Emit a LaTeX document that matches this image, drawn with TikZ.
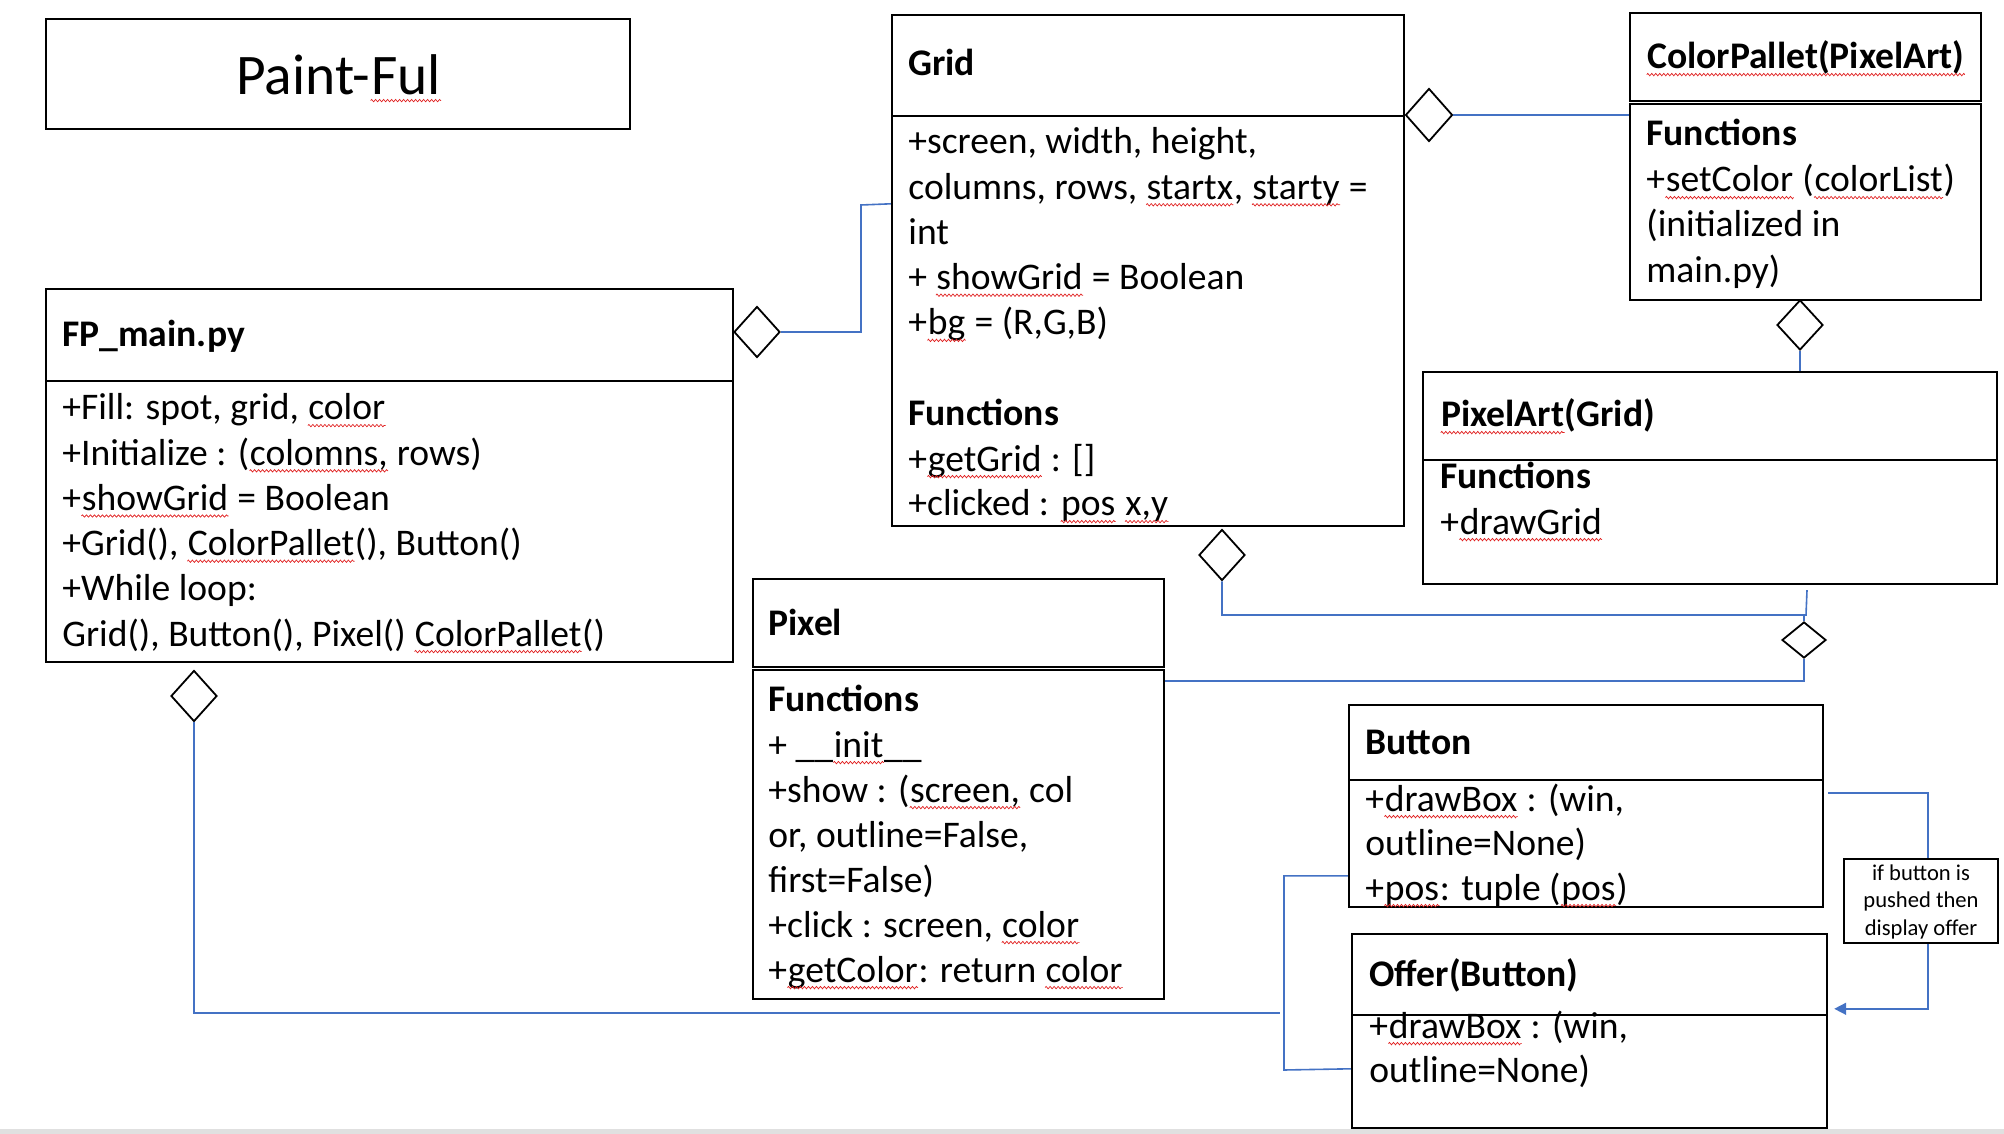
\documentclass[tikz,border=0pt]{standalone}
\usepackage{fontspec}
\setmainfont{Carlito}
\usetikzlibrary{arrows.meta, fit, shapes.geometric, decorations.pathmorphing}

\definecolor{linkblue}{HTML}{4472C4}
\definecolor{spellred}{HTML}{E02020}

\newcommand\classfont{\fontsize{18.8}{22.6}\selectfont}
\newcommand\paintfont{\fontsize{28.7}{34}\selectfont}
\newcommand\notefont{\fontsize{11.3}{13.5}\selectfont}
% red spelling wave under a word
\newcommand\sq[1]{\tikz[baseline=0pt, x=1pt, y=1pt]{\node[inner sep=0pt, anchor=base west] (sqw) at (0,0) {#1};
	\draw[spellred, line width=0.35pt, decorate, decoration={zigzag, amplitude=0.6pt, segment length=2pt}]
	([yshift=-2.8pt]sqw.base west) -- ([yshift=-2.8pt]sqw.base east);}}

\tikzset{
	box/.style={draw, line width=1.2pt, inner sep=0pt},
	txt/.style={anchor=base west, inner sep=0pt, font=\classfont},
	head/.style={txt, font=\classfont\bfseries},
	agg/.style={draw, diamond, line width=0.9pt, inner sep=0pt, minimum width=23pt, minimum height=25.5pt},
	link/.style={draw=linkblue, line width=0.8pt},
}

\begin{document}
\begin{tikzpicture}[x=0.5pt, y=-0.5pt]
	\useasboundingbox (0,0) rectangle (2004,1134);
	\fill[black!12] (0,1129) rectangle (2004,1134);

	% title
	\node[box, fit={(46,19) (630,129)}] (titlebox) {};
	\node[font=\paintfont, anchor=base, inner sep=0pt] (title) at (339,95) {Paint-\sq{Ful}};

	% FP_main.py
	\node[box, fit={(46,289) (733,381)}] (fph) {};
	\node[box, fit={(46,381) (733,662)}] (fpb) {};
	\node[head] (fpname) at (62,347) {FP\_main.py};
	\foreach \s [count=\i from 0] in {{+Fill: spot, grid, \sq{color}}, {+Initialize : (\sq{colomns,} rows)},
		{+\sq{showGrid} = Boolean}, {+Grid(), \sq{ColorPallet}(), Button()}, {+While loop:},
		{Grid(), Button(), Pixel() \sq{ColorPallet}()}}
		\node[txt] (fpline\i) at (62,420+45.2*\i) {\s};

	% Grid
	\node[box, fit={(892,15) (1404,526)}] (grb) {};
	\draw[line width=1.2pt] (892,116) -- (1404,116);
	\node[head] (grname) at (908,76) {Grid};
	\foreach \s [count=\i from 0] in {{+screen, width, height,}, {columns, rows, \sq{startx}, \sq{starty} =}, {int},
		{+ \sq{showGrid} = Boolean}, {+\sq{bg} = (R,G,B)}}
		\node[txt] (grline\i) at (908,154+45.2*\i) {\s};
	\node[head] (grfun) at (908,425) {Functions};
	\node[txt] (grget) at (908,471) {+\sq{getGrid} : []};
	\node[txt] (grclick) at (908,516) {+clicked : \sq{pos} \sq{x,y}};

	% ColorPallet
	\node[box, fit={(1630,13) (1981,101)}] (palh) {};
	\node[box, fit={(1630,104) (1981,300)}] (palb) {};
	\node[head] (palname) at (1646,69) {\sq{ColorPallet(PixelArt)}};
	\node[head] (palfun) at (1646,146) {Functions};
	\node[txt] (palset) at (1646,192) {+\sq{setColor} (\sq{colorList})};
	\node[txt] (palinit) at (1646,237) {(initialized in};
	\node[txt] (palmain) at (1646,283) {main.py)};

	% PixelArt
	\node[box, fit={(1423,372) (1997,460)}] (arth) {};
	\node[box, fit={(1423,460) (1997,584)}] (artb) {};
	\node[head] (artname) at (1440,427) {\sq{PixelArt}(Grid)};
	\node[head] (artfun) at (1440,488) {Functions};
	\node[txt] (artdraw) at (1440,534) {+\sq{drawGrid}};

	% Pixel
	\node[box, fit={(753,579) (1164,667)}] (pixh) {};
	\node[box, fit={(753,670) (1164,999)}] (pixb) {};
	\node[head] (pixname) at (768,635) {Pixel};
	\node[head] (pixfun) at (768,711) {Functions};
	\foreach \s [count=\i from 0] in {{+ \_\_\sq{init}\_\_}, {+show : (\sq{screen,} col}, {or, outline=False,},
		{first=False)}, {+click : screen, \sq{color}}, {+\sq{getColor}: return \sq{color}}}
		\node[txt] (pixline\i) at (768,757+45*\i) {\s};

	% Button
	\node[box, fit={(1349,705) (1823,780)}] (btnh) {};
	\node[box, fit={(1349,780) (1823,907)}] (btnb) {};
	\node[head] (btnname) at (1365,754) {Button};
	\foreach \s [count=\i from 0] in {{+\sq{drawBox} : (win,}, {outline=None)}, {+\sq{pos}: tuple (\sq{pos})}}
		\node[txt] (btnline\i) at (1365,811+44.5*\i) {\s};

	% Offer(Button)
	\node[box, fit={(1352,934) (1827,1015)}] (offh) {};
	\node[box, fit={(1352,1015) (1827,1128)}] (offb) {};
	\node[head] (offname) at (1369,986) {Offer(Button)};
	\node[txt] (offdraw) at (1369,1038) {+\sq{drawBox} : (win,};
	\node[txt] (offout) at (1369,1082) {outline=None)};

	% note
	\node[box, fit={(1844,859) (1998,943)}] (note) {};
	\foreach \s [count=\i from 0] in {if button is, pushed then, display offer}
		\node[font=\notefont, anchor=base, inner sep=0pt] (noteline\i) at (1921,880+27.5*\i) {\s};

	% aggregation diamonds
	\node[agg] (dfp) at (757,332) {};
	\node[agg, minimum width=23.5pt, minimum height=26.5pt] (dgr) at (1429,115) {};
	\node[agg, minimum height=25pt] (dpal) at (1800,325) {};
	\node[agg] (dgb) at (1222,555) {};
	\node[agg, minimum width=22pt, minimum height=18pt] (dpx) at (1804,640) {};
	\node[agg] (dfb) at (194,696) {};
	\coordinate (fpend) at (1280,1013);

	\draw[link] (dfp.east) -| (861,205) -- ([yshift=-95pt]grb.north west);
	\draw[link] (dgr.east) -- (dgr.east -| palb.west);
	\draw[link] (dpal.south) -- (dpal.south |- arth.north);
	\draw[link] (dgb.south) |- (1806,615) -- ([xshift=48.5pt,yshift=-2.5pt]artb.south);
	\draw[link] (dpx.north) -- (1804,615);
	\draw[link] (dpx.south) |- ([yshift=-6pt]pixb.north east);
	\draw[link] (dfb.south) |- (fpend);
	\draw[link] ([yshift=-48.5pt]btnb.north west) -| (1284,1070) -- ([yshift=-27.5pt]offb.north west);
	\draw[link] ([yshift=-7pt,xshift=2pt]btnb.north east) -| ([xshift=3.5pt]note.north);
	\draw[link, -{Triangle[length=6pt,width=6pt]}] ([xshift=3.5pt]note.south) |- ([yshift=-38pt,xshift=3pt]offh.north east);
\end{tikzpicture}
\end{document}
